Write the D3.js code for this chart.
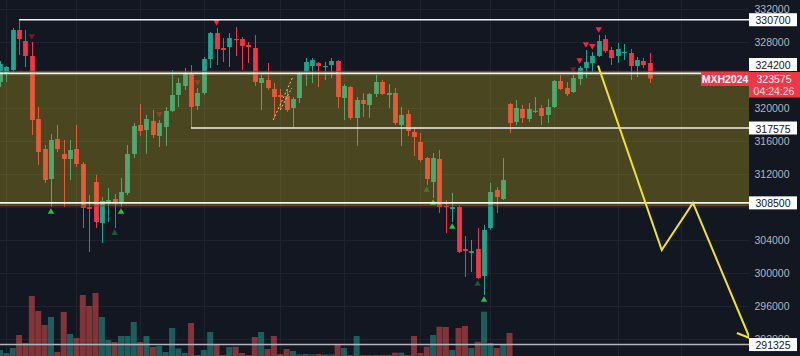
<!DOCTYPE html>
<html><head><meta charset="utf-8">
<script src="https://cdn.jsdelivr.net/npm/d3@7"></script>
<style>html,body{margin:0;padding:0;background:#131722;overflow:hidden}</style>
</head><body><svg id="c" width="800" height="356"></svg>
<script>
// ---- data ----
const openP=[323150,324120,324600,329450,328120,326300,318670,315030,311400,316240,
314420,313820,315030,313210,308000,311030,306060,308610,308970,308610,
309700,314420,317940,317330,318420,316610,317700,319640,321580,322670,
324240,320240,321820,325940,329090,327270,327390,328360,328360,327640,
327270,323030,323390,322300,321580,321450,320000,321210,324360,325090,
325450,324970,325210,325700,321210,322550,318790,320970,320360,321700,
323150,321580,321820,317940,319270,317090,315880,313940,311030,313820,
308120,307760,308000,302910,302430,302910,299640,305450,310060,308970,
320485,318300,319880,318670,319550,320000,319150,320120,323270,322420,
321940,323510,324850,325450,326300,328360,327030,326300,326670,326670,
325090,325700,325450];
const highP=[325700,325090,329700,330700,329450,328000,320120,315520,316850,317940,
316120,316120,317940,313450,309450,311880,309210,310300,309580,311520,
315520,318180,320480,319150,319760,318550,320120,324600,323640,324850,
325210,322420,326180,329210,329700,328480,329090,329820,328600,328000,
328850,324000,325450,323030,322300,322180,321330,324360,326060,326060,
325575,325575,326060,325820,322910,322670,321330,321820,321820,324000,
323390,322910,322420,320120,319760,317575,316970,314060,314550,314910,
308850,309700,308240,304490,304000,305450,305820,310910,310420,313940,
320610,320970,320360,320610,321330,320360,321090,323390,324000,323150,
324000,325090,327030,326790,328850,328850,327390,327880,327760,327150,
326180,326060,326670];
const lowP=[322550,323150,324360,326420,324970,316730,313090,310910,308000,314670,
308000,311270,312850,305450,302550,305450,303640,306180,305450,308000,
309450,313940,316610,314420,316360,315270,315390,319520,320120,322180,
317575,319760,321580,324850,325210,325575,324970,326300,324600,325450,
322670,319760,322180,318790,319760,319520,317700,320610,322670,323030,
322550,323390,323640,320000,318550,318550,315390,318910,318790,321330,
321580,320000,317940,315390,316610,314180,313450,310670,309090,307270,
304850,306180,302430,299520,300120,299280,297340,305210,307270,308850,
316970,317940,318180,318300,319400,317940,318180,320000,322180,321450,
321820,322790,323640,324360,326180,326670,325210,325450,325820,323390,
323760,324850,323030];
const closeP=[325330,324970,329450,328360,326300,318550,314670,311270,316120,315030,
313820,314910,313210,307880,307760,306180,308730,308850,308490,309820,
314420,317820,317210,318670,316730,318180,319640,321580,323030,324240,
320120,321820,325940,329090,327150,327030,328480,328240,327510,327390,
323150,323640,322420,321330,321330,319760,321090,324240,325575,325820,
325090,325090,325700,321330,322670,318790,320970,320485,321700,323150,
321700,321820,318180,319150,317210,316485,313700,311400,313940,308000,
308000,308000,302550,302670,302670,299400,305210,309820,309210,311270,
318180,320000,318790,319880,319670,319030,320120,323270,322300,321700,
323640,324850,325575,326300,328120,326910,326060,327150,326790,325090,
325820,325210,323575];
const volumes=[600,300,800,2100,1300,6000,4500,3100,3900,400,
4400,2200,1800,6100,5000,6300,3900,1600,1400,2000,
2000,3400,1400,2000,900,1000,400,2800,750,300,
3300,100,600,2400,1100,100,900,930,300,100,
1900,2400,700,2000,200,700,500,150,200,150,
200,150,150,1200,800,100,2000,100,100,100,
100,100,330,330,100,2000,300,930,2100,2930,
2900,600,2800,3000,800,1430,4430,1300,800,1100,
2300];
const priceTicks=[332000,328000,324000,320000,316000,312000,308000,304000,300000,296000,292000];
const levelPrices=[330700,324200,317575,308500,291325];
const levelStartIdx=[3,0,30,0,0];
const zoneTop=324200, zoneBottom=308500;
const lastPrice=323575, countdownText="04:24:26", symbolText="MXH2024";
const sellIdx=[5,25,31,34,90,91,92,93,94];
const sellStrong=[0,0,0,1,0,1,1,1,1];
const buyIdx=[8,18,19,67,68,71,75,76];
const buyStrong=[1,0,1,0,1,1,0,1];
const projIdx=[93.9,103.9,108.8,117.7];
const projPrice=[325130,302790,308500,292120];
const arrowIdx=[115.7,117.7], arrowPrice=[292730,292120];
const dashAIdx=[42.9,46.0], dashAPrice=[318550,323800];
const dashBIdx=[44.0,45.8], dashBPrice=[319750,322420];
const gridIdx=[1,12,22,32,44,54,66,77,87,97,107];

// ---- drawing ----
const W=800,H=356,plotW=749;
const svg=d3.select("#c");
const x=d3.scaleLinear().domain([0,117.6]).range([0,plotW]);
const y=d3.scaleLinear().domain([289939,333091]).range([H,0]);
const yv=d3.scaleLinear().domain([0,7000]).range([H,H-70]);
const UP="#1fa48f", DOWN="#f23645";
const FONT="'Liberation Sans', Arial, sans-serif";

svg.append("rect").attr("width",W).attr("height",H).attr("fill","#131722");
svg.append("clipPath").attr("id","pc").append("rect").attr("width",plotW).attr("height",H);
const plot=svg.append("g").attr("clip-path","url(#pc)");

// grid
plot.selectAll(".hg").data(priceTicks).join("line")
  .attr("x1",0).attr("x2",plotW).attr("y1",d=>Math.round(y(d))+0.5).attr("y2",d=>Math.round(y(d))+0.5)
  .attr("stroke","#1f2330").attr("stroke-width",1);
plot.selectAll(".vg").data(gridIdx).join("line")
  .attr("x1",d=>Math.round(x(d))+0.5).attr("x2",d=>Math.round(x(d))+0.5).attr("y1",0).attr("y2",H)
  .attr("stroke","#1f2330").attr("stroke-width",1);

const idx=d3.range(openP.length);
// volume
plot.selectAll(".vol").data(volumes).join("rect")
  .attr("x",(d,i)=>x(i)-3).attr("width",6)
  .attr("y",d=>yv(d)).attr("height",d=>H-yv(d))
  .attr("fill",(d,i)=>closeP[i]>=openP[i]?"rgba(38,166,154,0.5)":"rgba(239,83,80,0.5)");

// candles
plot.selectAll(".wick").data(idx).join("line")
  .attr("x1",i=>Math.round(x(i))+0.5).attr("x2",i=>Math.round(x(i))+0.5)
  .attr("y1",i=>y(highP[i])).attr("y2",i=>y(lowP[i]))
  .attr("stroke",i=>closeP[i]>=openP[i]?UP:DOWN).attr("stroke-width",1);
plot.selectAll(".body").data(idx).join("rect")
  .attr("x",i=>Math.round(x(i))+0.5-2.4).attr("width",4.8)
  .attr("y",i=>y(Math.max(openP[i],closeP[i])))
  .attr("height",i=>Math.max(1.2,Math.abs(y(openP[i])-y(closeP[i]))))
  .attr("fill",i=>closeP[i]>=openP[i]?UP:DOWN);

// signal markers
const tri=d3.symbol().type(d3.symbolTriangle).size(18);
plot.selectAll(".sell").data(sellIdx).join("path")
  .attr("d",tri).attr("transform",(d)=>`translate(${x(d)},${y(highP[d])-6}) rotate(180)`)
  .attr("fill",(d,k)=>sellStrong[k]?"#e8293e":"#6e1c27");
plot.selectAll(".buy").data(buyIdx).join("path")
  .attr("d",tri).attr("transform",(d)=>`translate(${x(d)},${y(lowP[d])+5})`)
  .attr("fill",(d,k)=>buyStrong[k]?"#1fc43a":"#1b5a2c");

// dashed annotation
[[dashAIdx,dashAPrice],[dashBIdx,dashBPrice]].forEach(([ix,pr])=>{
  plot.append("line").attr("x1",x(ix[0])).attr("y1",y(pr[0])).attr("x2",x(ix[1])).attr("y2",y(pr[1]))
   .attr("stroke","#e9dcc0").attr("stroke-width",1).attr("stroke-dasharray","2,2");
});

// zone overlay
plot.append("rect").attr("x",-1).attr("width",plotW+2)
  .attr("y",y(zoneTop)-2).attr("height",y(zoneBottom)-y(zoneTop)+5)
  .attr("fill","rgba(200,180,30,0.30)").attr("stroke","rgba(190,40,40,0.85)").attr("stroke-width",1);

// level lines
plot.selectAll(".lvl").data(levelPrices).join("line")
  .attr("x1",(d,k)=>x(levelStartIdx[k])).attr("x2",plotW)
  .attr("y1",d=>y(d)).attr("y2",d=>y(d))
  .attr("stroke",(d,k)=>k===4?"#b4b6bf":"#f2f2f2").attr("stroke-width",1.6);

// projection zigzag
const line=d3.line().x(d=>x(d[0])).y(d=>y(d[1]));
svg.append("path").datum(projIdx.map((v,k)=>[v,projPrice[k]]))
  .attr("d",line).attr("fill","none").attr("stroke","#f0e22a").attr("stroke-width",2).attr("stroke-linejoin","miter");
svg.append("path").datum(arrowIdx.map((v,k)=>[v,arrowPrice[k]]))
  .attr("d",line).attr("fill","none").attr("stroke","#f0e22a").attr("stroke-width",2);

// price axis
const lastY=y(lastPrice);
const curTop=lastY-6.5, curBot=lastY+19;
const ax=svg.append("g");
ax.append("rect").attr("x",plotW).attr("width",W-plotW).attr("height",H).attr("fill","#131722");
// tick labels hidden where a label box covers them (as the chart's axis does)
const visibleTicks=priceTicks.filter(t=>{
  const ty=y(t);
  if(ty+5>curTop && ty-5<curBot) return false;
  return !levelPrices.some(l=>{const d=ty-y(l); return d>0 && d<6.5;});
});
ax.selectAll(".tk").data(visibleTicks).join("text")
  .attr("x",772).attr("y",d=>y(d)).attr("text-anchor","middle").attr("dominant-baseline","central")
  .attr("fill","#b2b5be").attr("font-family",FONT).attr("font-size",10.5).text(d=>d3.format("d")(d));

ax.selectAll(".lb").data(levelPrices).join(enter=>{
  const g=enter.append("g").attr("transform",d=>{
    let c=y(d);
    if(c+6.5>curTop && c-6.5<curBot) c=curTop-7.5;
    return `translate(0,${c})`;});
  g.append("rect").attr("x",plotW).attr("y",-6.5).attr("width",48).attr("height",13).attr("fill","#ffffff");
  g.append("text").attr("x",773).attr("y",0.5).attr("text-anchor","middle").attr("dominant-baseline","central")
    .attr("fill","#131722").attr("font-family",FONT).attr("font-size",10.5).text(d=>d3.format("d")(d));
  return g;});

ax.append("rect").attr("x",plotW).attr("y",curTop).attr("width",W-plotW).attr("height",curBot-curTop).attr("fill","#f23645");
ax.append("text").attr("x",774).attr("y",lastY+0.5).attr("text-anchor","middle").attr("dominant-baseline","central")
  .attr("fill","#fff").attr("font-family",FONT).attr("font-size",10.5).text(d3.format("d")(lastPrice));
ax.append("text").attr("x",774).attr("y",lastY+12).attr("text-anchor","middle").attr("dominant-baseline","central")
  .attr("fill","#fbe3e5").attr("font-family",FONT).attr("font-size",10.5).text(countdownText);

svg.append("rect").attr("x",701).attr("y",lastY-6.5).attr("width",plotW-701).attr("height",14).attr("fill","#f23645");
svg.append("text").attr("x",725).attr("y",lastY+0.5).attr("text-anchor","middle").attr("dominant-baseline","central")
  .attr("fill","#fff").attr("font-family",FONT).attr("font-size",10.5).attr("font-weight","bold").text(symbolText);
</script></body></html>
